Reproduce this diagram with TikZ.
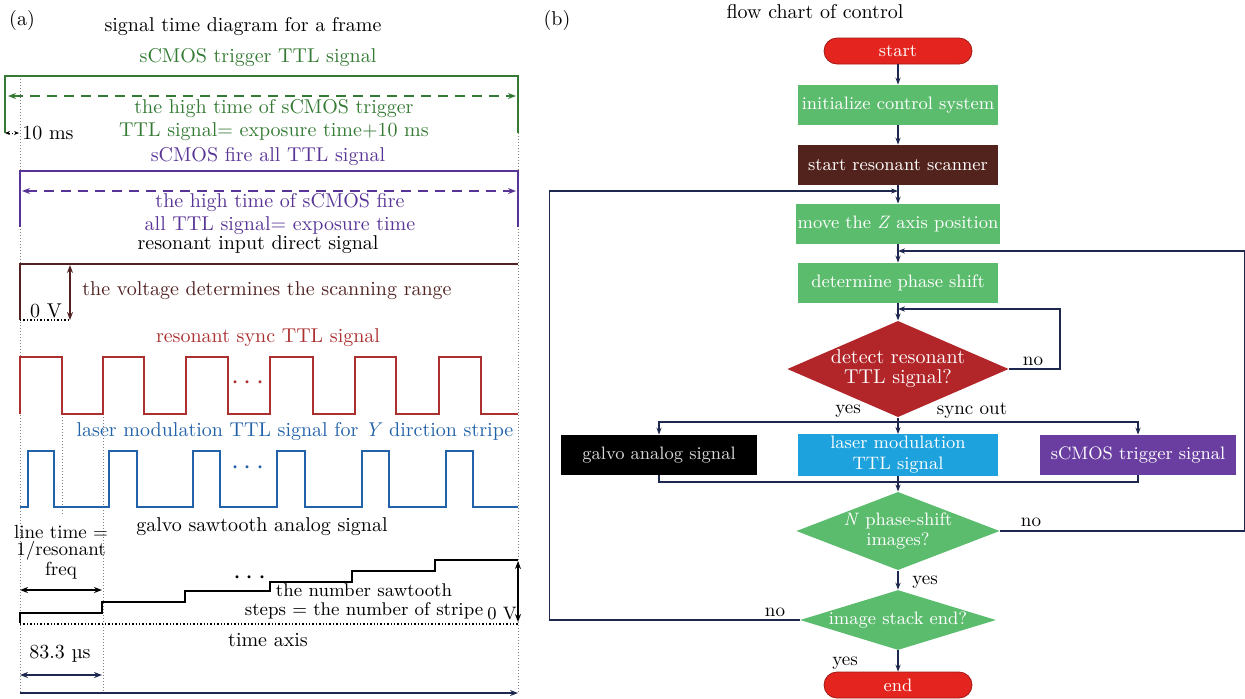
\documentclass[tikz,border=0pt]{standalone}
\usepackage{xcolor}
\usepackage{tikz}
\usetikzlibrary{positioning,arrows.meta,shapes.geometric}

\definecolor{trigGreen}{RGB}{52,122,52}
\definecolor{firePurple}{RGB}{88,52,150}
\definecolor{resBrown}{RGB}{82,34,34}
\definecolor{syncRed}{RGB}{172,48,48}
\definecolor{laserBlue}{RGB}{34,98,168}
\definecolor{flowNavy}{RGB}{30,40,78}
\definecolor{termRed}{RGB}{228,36,30}
\definecolor{stepGreen}{RGB}{92,188,110}
\definecolor{scanBrown}{RGB}{82,34,28}
\definecolor{detRed}{RGB}{178,38,42}
\definecolor{laserCyan}{RGB}{30,162,222}
\definecolor{camPurple}{RGB}{106,62,160}

\begin{document}
\begin{tikzpicture}[
  x=0.5pt, y=-0.5pt,
  lbl/.style={font=\fontsize{10}{11.5}\selectfont, inner sep=1pt, align=center},
  wave/.style={line width=1pt, line join=miter},
  guide/.style={densely dotted, gray, line width=0.5pt},
  span/.style={<->, >={Stealth[length=4pt,width=3pt]}, line width=0.8pt},
  dspan/.style={span, dash pattern=on 5pt off 3.5pt},
  zeroline/.style={densely dotted, line width=0.7pt},
  flowstep/.style={
    fill=stepGreen,
    text=white,
    align=center,
    minimum width=100pt,
    minimum height=20pt,
    inner sep=1pt,
    font=\fontsize{9}{10.5}\selectfont
  },
  terminal/.style={flowstep, fill=termRed, draw=termRed!70!black,
    rounded corners=6.5pt, minimum width=74pt, minimum height=13pt},
  decision/.style={diamond, fill=stepGreen, text=white, inner sep=0pt,
    align=center, font=\fontsize{9}{10}\selectfont},
  arrow/.style={->, flowNavy, line width=0.7pt, >={Stealth[length=3.5pt,width=2.6pt]}},
  link/.style={flowNavy, line width=0.7pt},
  answer/.style={font=\fontsize{9.5}{10}\selectfont, inner sep=1pt}
]
  \useasboundingbox (0,0) rectangle (1245,698);

  % (a) signal time diagram
  \node[lbl] (tagA) at (22,20) {(a)};
  \node[lbl] (titleA) at (243,27) {signal time diagram for a frame};

  \draw[guide] (20,76) -- (20,693);
  \draw[guide] (518,133) -- (518,693);
  \draw[guide] (62,414) -- (62,515);
  \draw[guide] (103,414) -- (103,693);

  \node[lbl, text=trigGreen] (trigName) at (258,57) {sCMOS trigger TTL signal};
  \draw[wave, trigGreen] (5,133) -- (5,76) -- (518,76) -- (518,133);
  \draw[dspan, trigGreen] (8,96) -- (516,96);
  \node[lbl, text=trigGreen] (trigNote) at (274,120) {the high time of sCMOS trigger\\TTL signal= exposure time+10 ms};
  \draw[span, densely dotted, line width=0.5pt, >={Stealth[length=2.5pt,width=2pt]}] (5,133) -- (19,133);
  \node[lbl, anchor=west] (tenMs) at (20,133) {10 ms};

  \node[lbl, text=firePurple] (fireName) at (268,156) {sCMOS fire all TTL signal};
  \draw[wave, firePurple] (20,227) -- (20,171) -- (518,171) -- (518,227);
  \draw[dspan, firePurple] (22,191) -- (516,191);
  \node[lbl, text=firePurple] (fireNote) at (280,214) {the high time of sCMOS fire\\all TTL signal= exposure time};

  \node[lbl] (resName) at (258,245) {resonant input direct signal};
  \draw[wave, resBrown] (20,320) -- (20,264) -- (518,264);
  \draw[zeroline] (20,320) -- (70,320);
  \draw[span, resBrown] (70,265) -- (70,320);
  \node[lbl] (zeroA) at (46,311) {0 V};
  \node[lbl, text=resBrown, anchor=west] (voltNote) at (80,291) {the voltage determines the scanning range};

  \node[lbl, text=syncRed] (syncName) at (268,338) {resonant sync TTL signal};
  \draw[wave, syncRed] (20,414) -- (20,357) -- (62,357) -- (62,414) -- (103,414) -- (103,357)
    -- (144,357) -- (144,414) -- (186,414) -- (186,357) -- (228,357) -- (228,414)
    -- (270,414) -- (270,357) -- (313,357) -- (313,414) -- (355,414) -- (355,357)
    -- (396,357) -- (396,414) -- (439,414) -- (439,357) -- (481,357) -- (481,414) -- (518,414);
  \node[lbl, text=syncRed] (syncDots) at (248,383) {\Large$\cdots$};

  \node[lbl, text=laserBlue] (laserName) at (295,431) {laser modulation TTL signal for \textit{Y} dirction stripe};
  \draw[wave, laserBlue] (20,507) -- (28,507) -- (28,451) -- (54,451) -- (54,507) -- (109,507)
    -- (109,451) -- (137,451) -- (137,507) -- (193,507) -- (193,451) -- (220,451)
    -- (220,507) -- (277,507) -- (277,451) -- (305,451) -- (305,507) -- (362,507)
    -- (362,451) -- (389,451) -- (389,507) -- (446,507) -- (446,451) -- (473,451)
    -- (473,507) -- (518,507);
  \node[lbl, text=laserBlue] (laserDots) at (248,468) {\Large$\cdots$};

  \node[lbl] (galvoName) at (262,527) {galvo sawtooth analog signal};
  \node[lbl, font=\fontsize{9.5}{8.6}\selectfont] (lineTime) at (61,552) {line time =\\1/resonant\\freq};
  \draw[span] (20,590) -- (102,590);
  \draw[wave] (20,623) -- (20,613) -- (102,613) -- (102,602) -- (185,602) -- (185,591)
    -- (270,591) -- (270,582) -- (352,582) -- (352,571) -- (435,571) -- (435,560) -- (518,560);
  \draw[zeroline] (20,624) -- (518,624);
  \draw[span] (518,561) -- (518,622);
  \node[lbl, font=\fontsize{9}{10}\selectfont] (zeroB) at (502,614) {0 V};
  \node[lbl] (stairDots) at (250,578) {\Large$\cdots$};
  \node[lbl, font=\fontsize{9.2}{9.6}\selectfont] (stairNote) at (364,601) {the number sawtooth\\steps = the number of stripe};
  \node[lbl] (timeName) at (268,640) {time axis};
  \node[lbl] (period) at (60,654) {83.3 µs};
  \draw[span, flowNavy] (20,675) -- (102,675);
  \draw[->, flowNavy, line width=1pt, >={Stealth[length=4pt,width=3pt]}] (20,693) -- (518,693);

  % (b) flow chart
  \node[lbl] (tagB) at (557,20) {(b)};
  \node[lbl] (titleB) at (815,12) {flow chart of control};

  \node[terminal] (start) at (898,51) {start};
  \node[flowstep] (init) at (898,105) {initialize control system};
  \node[flowstep, fill=scanBrown] (scanner) at (898,165) {start resonant scanner};
  \node[flowstep] (movez) at (898,224) {move the \textit{Z} axis position};
  \node[flowstep] (phase) at (898,283) {determine phase shift};
  \node[decision, fill=detRed, aspect=2.3, minimum width=106pt, minimum height=46pt,
    font=\fontsize{10}{10}\selectfont] (detect) at (898,369) {detect resonant\\TTL signal?};
  \node[flowstep, fill=black, text=white!85!black, minimum width=98pt] (galvo) at (659,455) {galvo analog signal};
  \node[flowstep, fill=laserCyan] (laser) at (898,455) {laser modulation\\TTL signal};
  \node[flowstep, fill=camPurple, minimum width=98pt] (scmos) at (1138,455) {sCMOS trigger signal};
  \node[decision, aspect=2.6, minimum width=98pt, minimum height=35pt] (nphase) at (898,531) {\textit{N} phase-shift\\images?};
  \node[decision, aspect=3.2, minimum width=98pt, minimum height=30pt] (stack) at (898,620) {image stack end?};
  \node[terminal] (finish) at (898,685) {end};

  \coordinate (backS) at (898,191);
  \coordinate (backN) at (898,251);
  \coordinate (backD) at (898,309);
  \coordinate (split) at (898,422);
  \coordinate (merge) at (898,482);

  \draw[arrow] (start) -- (init);
  \draw[arrow] (init) -- (scanner);
  \draw[arrow] (scanner) -- (movez);
  \draw[arrow] (movez) -- (phase);
  \draw[arrow] (phase) -- (detect);
  \draw[arrow] (detect.east) -- ++(51,0) |- (backD);
  \draw[link] (detect.south) -- (split);
  \draw[arrow] (split) -| (galvo.north);
  \draw[arrow] (split) -| (scmos.north);
  \draw[arrow] (split) -- (laser.north);
  \draw[link] (galvo.south) |- (merge);
  \draw[link] (scmos.south) |- (merge);
  \draw[arrow] (laser.south) -- (nphase.north);
  \draw[arrow] (nphase.east) -- ++(245,0) |- (backN);
  \draw[arrow] (nphase.south) -- (stack.north);
  \draw[arrow] (stack.west) -- ++(-250,0) |- (backS);
  \draw[arrow] (stack.south) -- (finish);

  \node[answer] (yesD) at (848,411) {yes};
  \node[answer] (syncOut) at (972,411) {sync out};
  \node[answer] (noD) at (1033,361) {no};
  \node[answer] (noN) at (1031,522) {no};
  \node[answer] (yesN) at (925,582) {yes};
  \node[answer] (noS) at (775,612) {no};
  \node[answer] (yesS) at (845,663) {yes};
\end{tikzpicture}
\end{document}
